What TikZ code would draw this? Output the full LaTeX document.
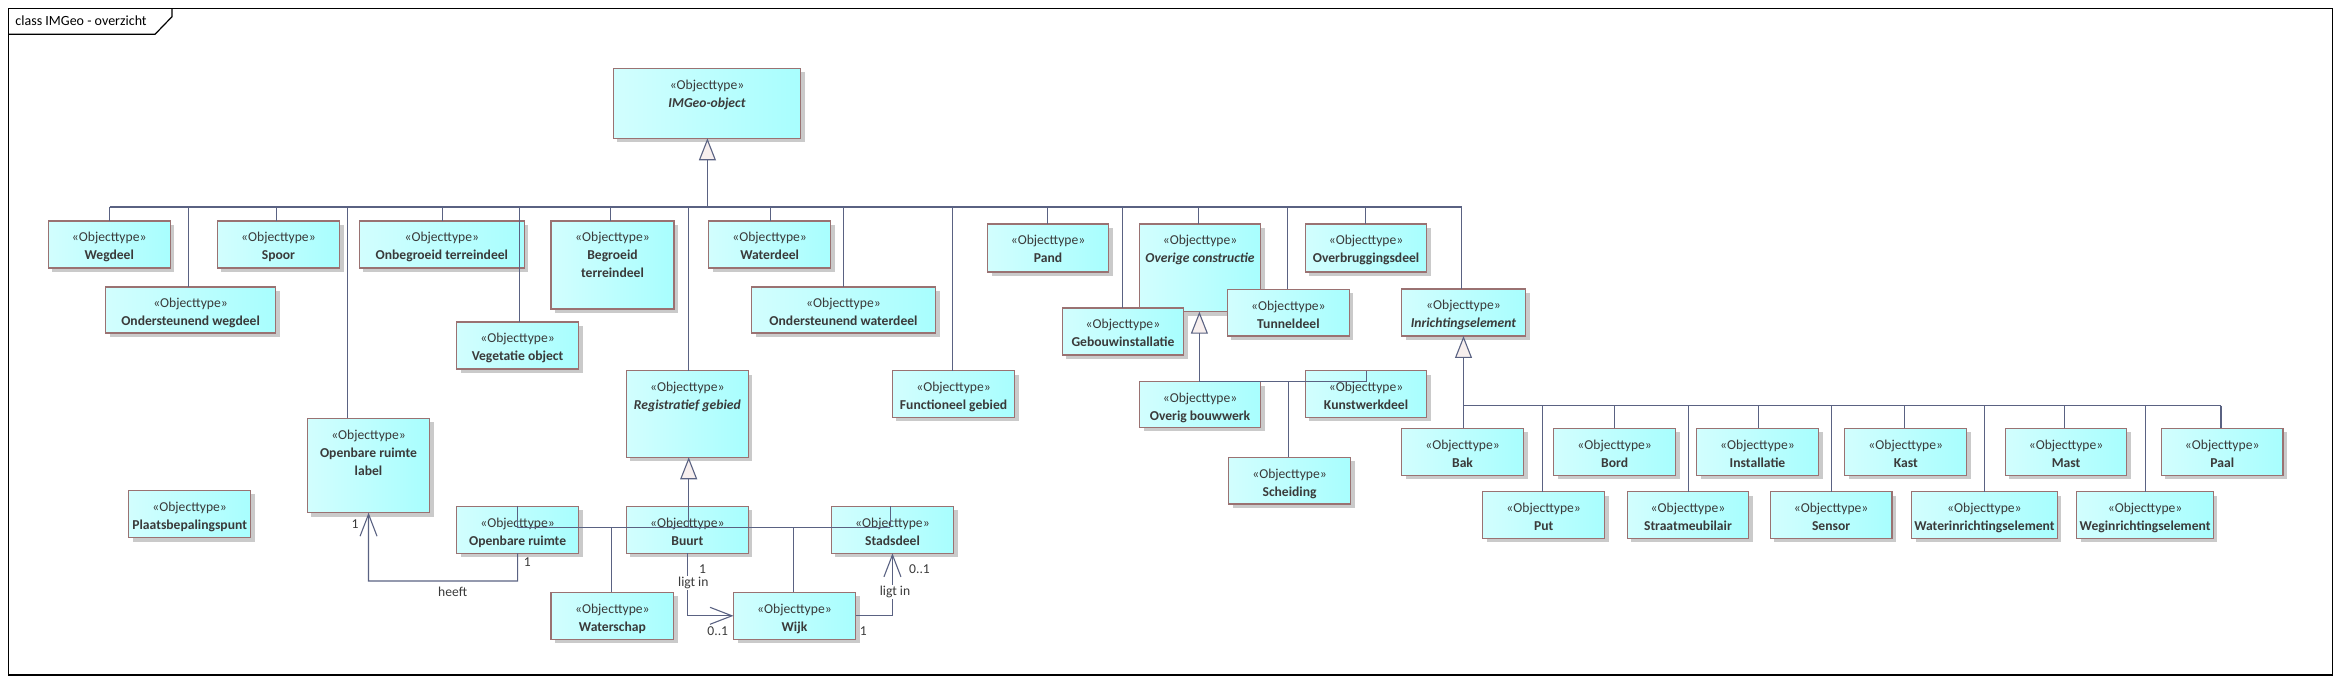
\documentclass[tikz,border=0pt]{standalone}
\usepackage{fontspec}
\setmainfont{Carlito}
\usetikzlibrary{fit,arrows.meta}
\definecolor{boxL}{HTML}{D2FEFE}
\definecolor{boxR}{HTML}{A8FEFE}
\definecolor{boxB}{HTML}{9A7272}
\definecolor{lineC}{HTML}{5A6282}
\definecolor{txtC}{HTML}{3A3A3A}
\definecolor{triF}{HTML}{F7EFEE}
\definecolor{shadowC}{HTML}{CACACA}
\tikzset{
 objbox/.style={draw=boxB, line width=1.1pt, left color=boxL, right color=boxR, inner sep=0pt, outer sep=0pt},
 st/.style={anchor=base, text=txtC, font=\fontsize{13.6}{16}\selectfont, inner sep=0pt},
 nm/.style={anchor=base, text=txtC, font=\fontsize{13.6}{16}\selectfont\bfseries, inner sep=0pt},
 conn/.style={draw=lineC, line width=1.1pt},
 gentip/.style={-{Triangle[length=22pt,width=17pt,fill=triF]}},
 assoc/.style={conn, -{Straight Barb[length=22pt,width=17pt]}},
 lbl/.style={text=txtC, font=\fontsize{13.6}{16}\selectfont, inner sep=1pt},
}
\newcommand\ob[6]{%
  \fill[shadowC] (#2+4,#3+4) rectangle (#4+4,#5+4);
  \coordinate (#1-nw) at (#2,#3);
  \coordinate (#1-se) at (#4,#5);
  \node[objbox, fit=(#1-nw)(#1-se)] (#1) {};
  \node[st] (#1-s) at ({(#2+#4)/2},{#3+21}) {«Objecttype»};
  \node[nm] (#1-n) at ({(#2+#4)/2},{#3+39}) {#6};
}
\begin{document}
\begin{tikzpicture}[x=1pt,y=-1pt]
\useasboundingbox (0,0) rectangle (2343,684);
% frame
\draw[line width=1.5pt] (8.4,8.3) rectangle (2332.4,675);
\draw[line width=1.2pt] (8.4,34.3) -- (155,34.3) -- (172,16.7) -- (172,8.3);
\node[anchor=base west, font=\fontsize{14}{16}\selectfont, inner sep=0pt] (title) at (15.3,26) {class IMGeo - overzicht};
% boxes
\ob{imgeo}{613.3}{68.3}{800.8}{138.3}{\textit{IMGeo-object}}
\ob{weg}{48.2}{221}{170.3}{268}{Wegdeel}
\ob{ondweg}{105.6}{287}{275.5}{333}{Ondersteunend wegdeel}
\ob{spoor}{217.4}{221}{339.5}{268}{Spoor}
\ob{onbeg}{359.4}{221}{524.3}{268}{Onbegroeid terreindeel}
\ob{begr}{551}{221}{674}{309}{Begroeid}
\node[nm] (begr-n2) at (612.5,278) {terreindeel};
\ob{veg}{456.6}{322}{578.6}{369}{Vegetatie object}
\ob{wat}{708.6}{221}{830.7}{268}{Waterdeel}
\ob{ondwat}{751.5}{287}{935.5}{333}{Ondersteunend waterdeel}
\ob{pand}{987.6}{224}{1108.5}{272}{Pand}
\ob{ovc}{1139.5}{224}{1260.6}{311.7}{\textit{Overige constructie}}
\ob{gebi}{1062.2}{308}{1183.7}{355}{Gebouwinstallatie}
\ob{tun}{1227.4}{289.3}{1349.4}{336}{Tunneldeel}
\ob{ovb}{1305.4}{224}{1426.7}{272}{Overbruggingsdeel}
\ob{inr}{1401.5}{289}{1525.5}{336}{\textit{Inrichtingselement}}
\ob{orl}{307.3}{418.3}{429.8}{512.7}{Openbare ruimte}
\node[nm] (orl-n2) at (368.5,475.3) {label};
\ob{plaats}{128.6}{490.3}{250.7}{537.7}{Plaatsbepalingspunt}
\ob{reg}{626.3}{370.7}{748.4}{457.3}{\textit{Registratief gebied}}
\ob{func}{892.3}{370.7}{1014.8}{417.3}{Functioneel gebied}
\ob{opr}{456.6}{506.3}{578.6}{553.3}{Openbare ruimte}
\ob{buurt}{626.3}{506.3}{748.4}{553.3}{Buurt}
\ob{sd}{831.4}{506.3}{953.5}{553.3}{Stadsdeel}
\ob{wsch}{551}{592.3}{673.8}{639.3}{Waterschap}
\ob{wijk}{733.5}{592.3}{855.5}{639.3}{Wijk}
\ob{ovbw}{1139.5}{381.7}{1260.6}{427.3}{Overig bouwwerk}
\ob{kunst}{1305.4}{370.7}{1426.7}{417.3}{Kunstwerkdeel}
\ob{sch}{1228.5}{457.3}{1350.6}{504}{Scheiding}
\ob{bak}{1401.5}{428.3}{1523.6}{475.3}{Bak}
\ob{put}{1482.6}{491.7}{1604.7}{538.3}{Put}
\ob{bord}{1553.8}{428.3}{1675.5}{475.3}{Bord}
\ob{straat}{1627.3}{491.7}{1748.6}{538.3}{Straatmeubilair}
\ob{inst}{1696.5}{428.3}{1818.5}{475.3}{Installatie}
\ob{sensor}{1770.2}{491.7}{1892}{538.3}{Sensor}
\ob{kast}{1844.9}{428.3}{1966.6}{475.3}{Kast}
\ob{watinr}{1911.5}{491.7}{2057.3}{538.3}{Waterinrichtingselement}
\ob{mast}{2005.2}{428.3}{2126.9}{475.3}{Mast}
\ob{weginr}{2076.8}{491.7}{2213.4}{538.3}{Weginrichtingselement}
\ob{paal}{2161.4}{428.3}{2283}{475.3}{Paal}
% generalization IMGeo-object
\coordinate (j-imgeo) at (707.4,207);
\draw[conn,gentip] (j-imgeo) -- (j-imgeo |- imgeo.south);
\foreach \x/\c in {109.5/weg,188.3/ondweg,276.3/spoor,347.5/orl,442.4/onbeg,519.3/veg,610.2/begr,688.7/reg,770.6/wat,843.3/ondwat,952.4/func,1047.3/pand,1122.3/gebi,1198.3/ovc,1287.4/tun,1365.5/ovb,1461.6/inr}{
  \coordinate (j-\c) at (\x,207);
  \draw[conn] (j-\c) -- (j-\c |- \c.north);
}
\draw[conn] (j-weg) -- (j-inr);
% generalization Registratief gebied
\coordinate (j-reg) at (688.7,527.3);
\draw[conn,gentip] (j-reg) -- (j-reg |- reg.south);
\foreach \x/\c in {517.4/opr,611.4/wsch,793.2/wijk,890.4/sd}{
  \coordinate (k-\c) at (\x,527.3);
  \draw[conn] (k-\c) -- (k-\c |- \c.north);
}
\draw[conn] (k-opr) -- (k-sd);
% generalization Overige constructie
\coordinate (j-ovc) at (1199.4,381.7);
\draw[conn,gentip] (j-ovc) -- (j-ovc |- ovc.south);
\foreach \x/\c in {1288.6/sch,1366.7/kunst}{
  \coordinate (m-\c) at (\x,381.7);
  \draw[conn] (m-\c) -- (m-\c |- \c.north);
}
\draw[conn] (j-ovc) -- (m-kunst);
% generalization Inrichtingselement
\coordinate (j-inr) at (1463.5,405.7);
\draw[conn,gentip] (j-inr) -- (j-inr |- inr.south);
\foreach \x/\c in {1463.5/bak,1542.7/put,1614.6/bord,1688.5/straat,1758.4/inst,1831.1/sensor,1904.6/kast,1984.2/watinr,2064.9/mast,2145.3/weginr,2221/paal}{
  \coordinate (n-\c) at (\x,405.7);
  \draw[conn] (n-\c) -- (n-\c |- \c.north);
}
\draw[conn] (n-bak) -- (n-paal);
% associations
\coordinate (h1) at (368.5,581);
\draw[assoc] (opr.south) |- (h1) -- (orl.south);
\node[lbl] (h-m1) at (355,524.3) {1};
\node[lbl] (h-m2) at (527.4,562) {1};
\node[lbl] (h-l) at (452.7,591.7) {heeft};
\draw[assoc] (buurt.south) |- (wijk.west);
\node[lbl] (bw-m1) at (702.5,569.3) {1};
\node[lbl, fill=white] (bw-l) at (693.3,583.3) {ligt in};
\node[lbl] (bw-m2) at (717.8,630.7) {0..1};
\draw[assoc] (wijk.east) -| (sd.south);
\node[lbl] (ws-m1) at (863.2,630.7) {1};
\node[lbl] (ws-m2) at (919.5,569.3) {0..1};
\node[lbl, fill=white] (ws-l) at (895,591.7) {ligt in};
\end{tikzpicture}
\end{document}
